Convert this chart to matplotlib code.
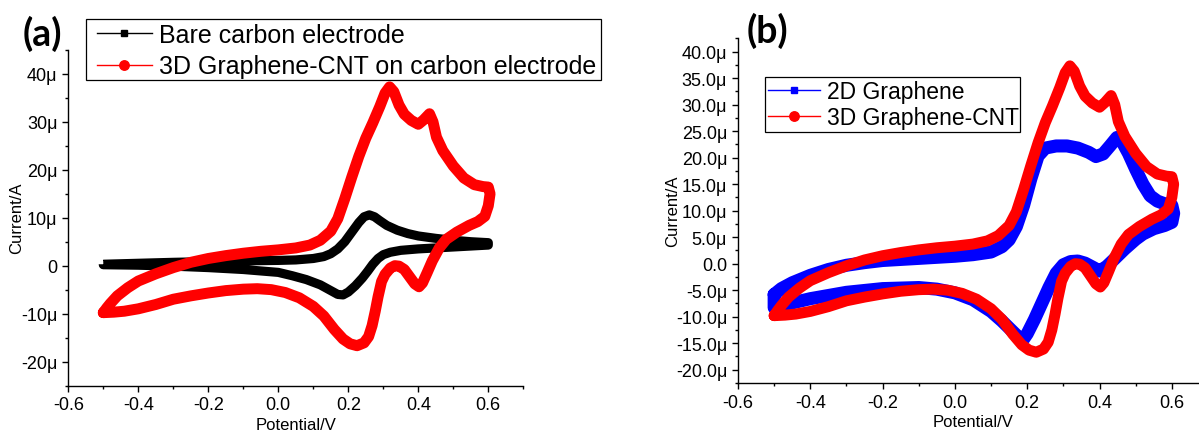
import matplotlib
matplotlib.use("Agg")
import matplotlib.pyplot as plt
from matplotlib.lines import Line2D
from matplotlib.patches import Rectangle
from matplotlib.ticker import FixedLocator, FuncFormatter

plt.rcParams['font.family'] = ['Liberation Sans', 'DejaVu Sans']
plt.rcParams['axes.unicode_minus'] = False

# ---------------- data (potential in V, current in microampere) ----------------
bare_E = [-0.50, -0.40, -0.30, -0.20, -0.10, 0.00, 0.05, 0.10, 0.13, 0.15, 0.17, 0.19, 0.21,
          0.23, 0.245, 0.26, 0.275, 0.29, 0.31, 0.34, 0.37, 0.40, 0.45, 0.50, 0.55, 0.60,
          0.60, 0.55, 0.50, 0.45, 0.40, 0.35, 0.32, 0.30, 0.285, 0.27, 0.255, 0.24, 0.22,
          0.20, 0.185, 0.17, 0.15, 0.12, 0.08, 0.04, 0.00, -0.10, -0.20, -0.30, -0.40, -0.50, -0.50]
bare_I = [0.3, 0.5, 0.7, 0.85, 1.0, 1.1, 1.2, 1.5, 1.9, 2.5, 3.5, 5.0, 7.0,
          9.0, 10.2, 10.6, 10.2, 9.4, 8.4, 7.4, 6.7, 6.2, 5.7, 5.3, 5.0, 4.8,
          4.3, 4.1, 3.9, 3.7, 3.5, 3.2, 2.8, 2.3, 1.5, 0.3, -1.2, -2.6, -4.2,
          -5.5, -6.1, -6.0, -5.2, -4.0, -2.9, -2.1, -1.4, -0.8, -0.4, -0.1, 0.1, 0.2, 0.3]

gcnt_E = [-0.50, -0.49, -0.48, -0.46, -0.43, -0.40, -0.35, -0.30, -0.25, -0.20, -0.15, -0.10,
          -0.05, 0.00, 0.05, 0.09, 0.12, 0.15, 0.17, 0.19, 0.21, 0.23, 0.25, 0.27, 0.29, 0.305,
          0.318, 0.33, 0.345, 0.36, 0.38, 0.40, 0.415, 0.432, 0.442, 0.452, 0.47, 0.50, 0.53,
          0.56, 0.585, 0.60,
          0.605, 0.60, 0.59, 0.57, 0.545, 0.51, 0.48, 0.46, 0.44, 0.425, 0.412, 0.402, 0.39,
          0.375, 0.36, 0.345, 0.333, 0.32, 0.305, 0.295, 0.285, 0.277, 0.268, 0.258, 0.245,
          0.225, 0.205, 0.185, 0.16, 0.13, 0.10, 0.06, 0.02, -0.02, -0.06, -0.10, -0.15,
          -0.20, -0.25, -0.30, -0.35, -0.40, -0.44, -0.47, -0.50]
gcnt_I = [-9.8, -8.8, -7.9, -6.3, -4.6, -3.2, -1.7, -0.4, 0.7, 1.5, 2.1, 2.6,
          3.0, 3.3, 3.7, 4.3, 5.3, 7.2, 9.8, 14.0, 18.5, 22.8, 26.6, 29.8, 33.2, 36.0,
          37.3, 36.3, 33.5, 31.6, 30.3, 29.5, 30.4, 31.7, 30.0, 26.8, 24.0, 20.8, 18.3,
          16.9, 16.5, 16.4,
          15.0, 12.5, 10.3, 9.2, 8.4, 7.0, 5.5, 3.7, 1.0, -1.5, -3.6, -4.4, -3.8,
          -2.3, -0.8, -0.1, 0.0, -0.5, -1.8, -3.3, -6.5, -9.5, -12.5, -14.8, -16.1,
          -16.7, -16.3, -15.3, -13.3, -10.5, -8.5, -6.7, -5.6, -5.0, -4.8, -4.9, -5.2,
          -5.7, -6.3, -7.0, -8.1, -9.0, -9.5, -9.7, -9.8]

g2d_E = [-0.50, -0.48, -0.45, -0.40, -0.35, -0.30, -0.25, -0.20, -0.10, 0.00, 0.05, 0.10,
         0.13, 0.15, 0.17, 0.19, 0.21, 0.23, 0.25, 0.28, 0.31, 0.34, 0.37, 0.39, 0.41, 0.43,
         0.448, 0.46, 0.48, 0.50, 0.52, 0.54, 0.56, 0.58, 0.60,
         0.605, 0.60, 0.58, 0.55, 0.52, 0.50, 0.47, 0.44, 0.42, 0.40, 0.385, 0.36, 0.34,
         0.32, 0.30, 0.28, 0.26, 0.24, 0.22, 0.20, 0.19, 0.175, 0.16, 0.13, 0.10, 0.05,
         0.00, -0.05, -0.10, -0.20, -0.30, -0.40, -0.45, -0.50, -0.50]
g2d_I = [-5.8, -4.7, -3.6, -2.2, -1.1, -0.3, 0.2, 0.6, 1.0, 1.4, 1.7, 2.2,
         3.2, 4.5, 7.0, 11.0, 16.0, 20.3, 21.8, 22.2, 22.2, 21.8, 21.0, 20.2, 20.7, 22.3,
         23.8, 23.3, 20.8, 17.8, 15.0, 12.8, 11.8, 11.3, 11.0,
         9.5, 7.8, 7.2, 6.6, 5.6, 4.6, 2.8, 0.8, -0.5, -1.4, -0.8, 0.1, 0.5,
         0.4, -0.2, -1.8, -4.5, -7.5, -10.5, -13.2, -14.2, -13.8, -12.8, -10.8, -9.0, -6.8,
         -5.5, -4.8, -4.5, -4.7, -5.4, -6.6, -7.4, -8.3, -5.8]

labels_a = ["Bare carbon electrode", "3D Graphene-CNT on carbon electrode"]
labels_b = ["2D Graphene", "3D Graphene-CNT"]
panel_tags = ["(a)", "(b)"]
x_label = "Potential/V"
y_label = "Current/A"

x_major = [-0.6, -0.4, -0.2, 0.0, 0.2, 0.4, 0.6]
x_minor = [-0.5, -0.3, -0.1, 0.1, 0.3, 0.5, 0.7]
ya_major = [-20, -10, 0, 10, 20, 30, 40]
ya_minor = [-25, -15, -5, 5, 15, 25, 35, 45]
yb_major = [-20, -15, -10, -5, 0, 5, 10, 15, 20, 25, 30, 35, 40]
yb_minor = [-22.5, -17.5, -12.5, -7.5, -2.5, 2.5, 7.5, 12.5, 17.5, 22.5, 27.5, 32.5, 37.5, 42.5]

# ---------------- figure ----------------
W, H = 1199, 431
fig = plt.figure(figsize=(W / 100, H / 100), dpi=100)


def fx(px):
    return px / W


def fy(py):
    return (H - py) / H


ax1 = fig.add_axes([fx(68.3), fy(386.5), fx(523.3 - 68.3), (386.5 - 51) / H])
ax2 = fig.add_axes([fx(738), fy(384), fx(1208 - 738), (384 - 39.3) / H])

ax1.plot(bare_E, bare_I, color='black', lw=6.6, solid_joinstyle='round', solid_capstyle='butt', zorder=2)
ax1.plot(gcnt_E, gcnt_I, color='#ff0000', lw=7.9, solid_joinstyle='round', solid_capstyle='round', zorder=3)

ax2.plot(g2d_E, g2d_I, color='#0000ff', lw=9.4, solid_joinstyle='round', solid_capstyle='round', zorder=2)
ax2.plot(gcnt_E, gcnt_I, color='#ff0000', lw=7.9, solid_joinstyle='round', solid_capstyle='round', zorder=3)

ax1.set_xlim(-0.6, 0.7)
ax1.set_ylim(-25, 45)
ax2.set_xlim(-0.6, 0.7)
ax2.set_ylim(-22.5, 42.5)


def fmt_x(v, pos):
    return "%.1f" % (round(v, 2) + 0.0)


def fmt_ya(v, pos):
    v = int(round(v))
    return "0" if v == 0 else "%dμ" % v


def fmt_yb(v, pos):
    v = round(v, 2) + 0.0
    return "0.0" if abs(v) < 1e-9 else "%.1fμ" % v


for ax, ymaj, ymin, yfmt in [(ax1, ya_major, ya_minor, fmt_ya), (ax2, yb_major, yb_minor, fmt_yb)]:
    ax.spines['top'].set_visible(False)
    ax.spines['right'].set_visible(False)
    for s in ['left', 'bottom']:
        ax.spines[s].set_linewidth(1.0)
    ax.xaxis.set_major_locator(FixedLocator(x_major))
    ax.xaxis.set_minor_locator(FixedLocator(x_minor))
    ax.yaxis.set_major_locator(FixedLocator(ymaj))
    ax.yaxis.set_minor_locator(FixedLocator(ymin))
    ax.xaxis.set_major_formatter(FuncFormatter(fmt_x))
    ax.yaxis.set_major_formatter(FuncFormatter(yfmt))
    ax.tick_params(which='major', direction='out', length=4.3, width=1.0, labelsize=13, pad=3.5)
    ax.tick_params(which='minor', direction='out', length=2.4, width=1.0)
    ax.set_xlabel(x_label, fontsize=12)
    ax.set_ylabel(y_label, fontsize=12)

ax1.xaxis.set_label_coords(0.5, -0.094)
ax1.xaxis.label.set_va('top')
ax1.yaxis.set_label_coords(-0.097, 0.5)
ax2.xaxis.set_label_coords(0.5, -0.09)
ax2.xaxis.label.set_va('top')
ax2.yaxis.set_label_coords(-0.123, 0.5)

# panel tags
fig.text(fx(42.5), fy(33.5), panel_tags[0], fontsize=27, fontweight='bold',
         family=['Lato', 'DejaVu Sans'], ha='center', va='center')
fig.text(fx(767), fy(30.5), panel_tags[1], fontsize=27, fontweight='bold',
         family=['Lato', 'DejaVu Sans'], ha='center', va='center')

# legends
ha = [Line2D([], [], color='black', lw=1.0, marker='s', ms=4.8),
      Line2D([], [], color='#ff0000', lw=1.0, marker='o', ms=6.8)]
leg1 = fig.legend(ha, labels_a, loc='center left', bbox_to_anchor=(fx(96.9), fy(51.7)),
                  bbox_transform=fig.transFigure, frameon=False, fontsize=18,
                  borderpad=0, borderaxespad=0, handlelength=2.2, handletextpad=0.29,
                  labelspacing=0.3)
fig.add_artist(Rectangle((fx(86.2), fy(81)), fx(601 - 86.2), (81 - 20) / H, transform=fig.transFigure,
                         fill=False, edgecolor='black', lw=0.9))

hb = [Line2D([], [], color='#0000ff', lw=1.0, marker='s', ms=4.8),
      Line2D([], [], color='#ff0000', lw=1.0, marker='o', ms=6.8)]
leg2 = fig.legend(hb, labels_b, loc='center left', bbox_to_anchor=(fx(768.2), fy(105.5)),
                  bbox_transform=fig.transFigure, frameon=False, fontsize=16.5,
                  borderpad=0, borderaxespad=0, handlelength=2.25, handletextpad=0.3,
                  labelspacing=0.17)
fig.add_artist(Rectangle((fx(764.8), fy(133.3)), fx(1019.8 - 764.8), (133.3 - 78.3) / H,
                         transform=fig.transFigure, fill=False, edgecolor='black', lw=0.9))

fig.savefig("out.png", dpi=100)
